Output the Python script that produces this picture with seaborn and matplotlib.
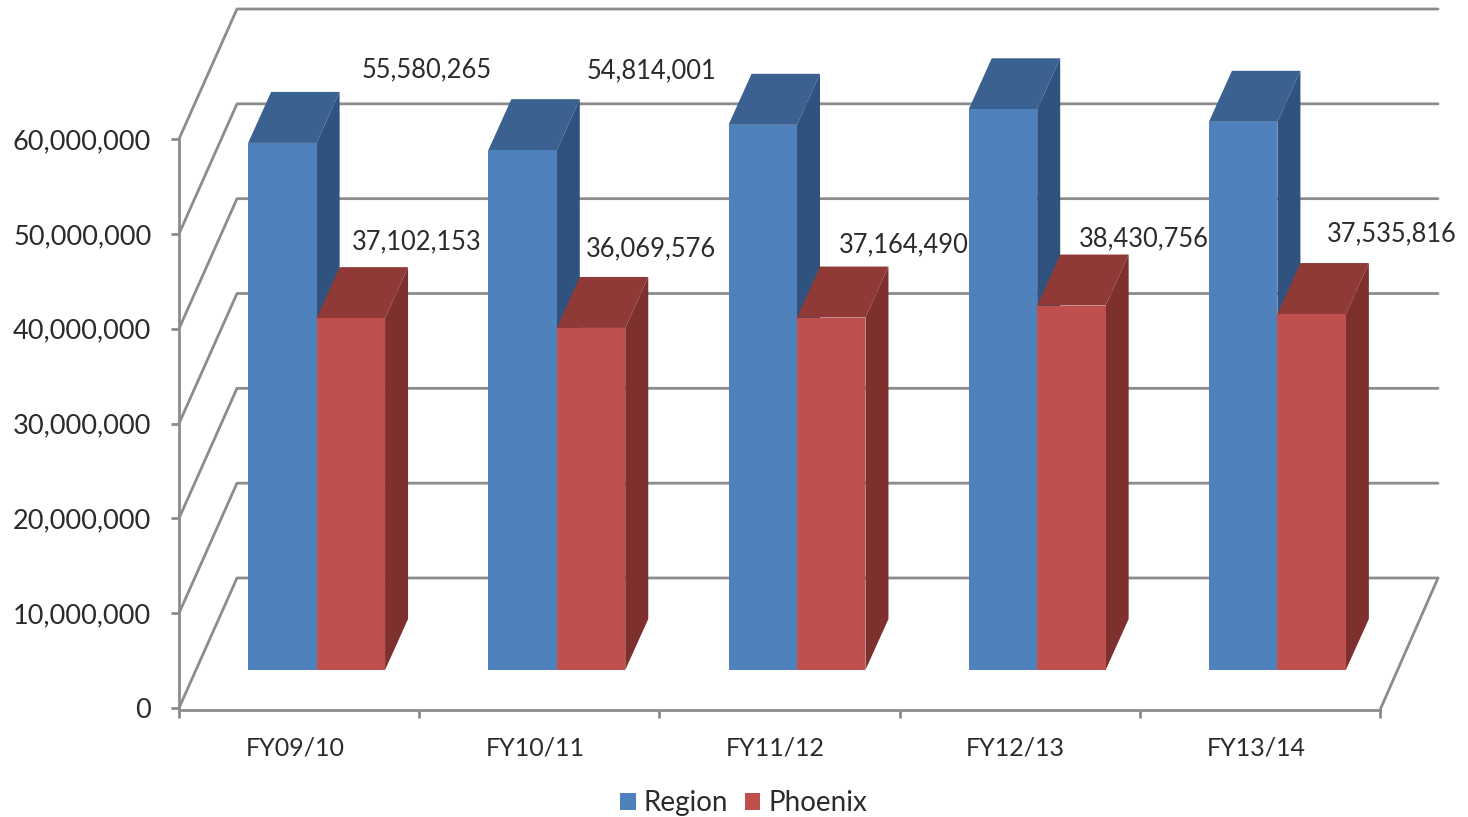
"""
3D look column chart, Region vs Phoenix by fiscal year
"""

import pandas as pd
import seaborn as sns
import matplotlib.pyplot as plt
from matplotlib.patches import Polygon
from matplotlib.ticker import FuncFormatter, MultipleLocator

years = ["FY09/10", "FY10/11", "FY11/12", "FY12/13", "FY13/14"]
region = [55580265, 54814001, 57489998, 59123712, 57805780]
phoenix = [37102153, 36069576, 37164490, 38430756, 37535816]

# where each value label sits relative to its bar's front top right corner, pixels
region_label_offsets = [(110, 73), (95, 79), (100, 48), (107, 32), (99, 43)]
phoenix_label_offsets = [(32, 76), (26, 79), (38, 73), (38, 67), (46, 80)]

sns.set_theme(style="white")
plt.rcParams["font.family"] = ["Lato", "DejaVu Sans"]

GREY = "#8c8c8c"
TEXT = "#2b2b2b"
colors = {"Region": "#4f81bd", "Phoenix": "#c0504d"}
top_colors = {"Region": "#3a6190", "Phoenix": "#8f3a37"}
side_colors = {"Region": "#2f527f", "Phoenix": "#7e302e"}

df = pd.DataFrame({"year": years, "Region": region, "Phoenix": phoenix})
df = df.melt(id_vars="year", var_name="series", value_name="value")

fig = plt.figure(figsize=(14.68, 8.17), dpi=100)
ax = fig.add_axes([179 / 1468, 1 - 708 / 817, 1201 / 1468, 569 / 817])
ax.patch.set_alpha(0)

sns.barplot(
    data=df, x="year", y="value", hue="series", palette=colors,
    width=0.57, gap=0, saturation=1, errorbar=None, linewidth=0, ax=ax,
)
ax.set_xlim(-0.5, 4.5)
ax.set_ylim(0, 60000000)

# pixels to data units, for the fake depth
px_x = 5 / 1201
px_y = 60000000 / 569
wall_dx, wall_dy = 58 * px_x, 130 * px_y
bar_dx, bar_dy = 17.5 * px_x, 38 * px_y
depth_dx, depth_dy = 23 * px_x, 51 * px_y

# back wall, side wall and floor lines
line_style = dict(color=GREY, lw=2, clip_on=False, zorder=1, solid_capstyle="round")
for y in range(0, 60000001, 10000000):
    ax.plot([-0.5, -0.5 + wall_dx, 4.5 + wall_dx], [y, y + wall_dy, y + wall_dy], **line_style)
ax.plot([4.5, 4.5 + wall_dx], [-2 * px_y, wall_dy], **line_style)

# bars are moved back from the axis, then get a top and a side face
series_names = ["Region", "Phoenix"]
all_offsets = [region_label_offsets, phoenix_label_offsets]
for i, container in enumerate(ax.containers):
    name = series_names[i]
    for bar, value, offset in zip(container, [region, phoenix][i], all_offsets[i]):
        bar.set_x(bar.get_x() + bar_dx)
        bar.set_y(bar_dy)
        bar.set_clip_on(False)
        bar.set_zorder(3.2 + i)
        x0, x1 = bar.get_x(), bar.get_x() + bar.get_width()
        y0, y1 = bar_dy, bar_dy + value
        top = Polygon(
            [(x0, y1), (x1, y1), (x1 + depth_dx, y1 + depth_dy), (x0 + depth_dx, y1 + depth_dy)],
            facecolor=top_colors[name], edgecolor="none", clip_on=False, zorder=3 + i,
        )
        side = Polygon(
            [(x1, y0), (x1 + depth_dx, y0 + depth_dy), (x1 + depth_dx, y1 + depth_dy), (x1, y1)],
            facecolor=side_colors[name], edgecolor="none", clip_on=False, zorder=3 + i,
        )
        ax.add_patch(top)
        ax.add_patch(side)
        ax.annotate(
            f"{value:,}", xy=(x1, y1), xytext=offset, textcoords="offset pixels",
            ha="center", va="center", fontsize=18.4, color=TEXT, zorder=6,
        )

# axes
sns.despine(ax=ax)
for side_name in ["left", "bottom"]:
    ax.spines[side_name].set_color(GREY)
    ax.spines[side_name].set_linewidth(2)
ax.spines["bottom"].set_position(("outward", 1.5))
ax.spines["left"].set_bounds(0, 60000000)

ax.yaxis.set_major_locator(MultipleLocator(10000000))
ax.yaxis.set_major_formatter(FuncFormatter(lambda v, pos: f"{int(v):,}"))
ax.tick_params(axis="y", left=True, length=6, width=2, color=GREY, labelsize=19.5, labelcolor=TEXT, pad=14)
for label in ax.get_yticklabels():
    label.set_verticalalignment("center_baseline")

ax.set_xticks([i - 0.017 for i in range(5)])
ax.set_xticklabels(years)
ax.set_xticks([i - 0.5 for i in range(6)], minor=True)
ax.tick_params(axis="x", which="major", length=0, labelsize=18, labelcolor=TEXT, pad=19)
ax.tick_params(axis="x", which="minor", bottom=True, length=6, width=2, color=GREY)
ax.set_xlabel("")
ax.set_ylabel("")

sns.move_legend(
    ax, "center", bbox_to_anchor=(744 / 1468, 1 - 803 / 817), bbox_transform=fig.transFigure,
    ncol=2, frameon=False, title=None, fontsize=20, labelcolor=TEXT,
    handlelength=0.55, handleheight=0.55, handletextpad=0.3, columnspacing=0.6,
)

fig.savefig("out.png", dpi=100)
